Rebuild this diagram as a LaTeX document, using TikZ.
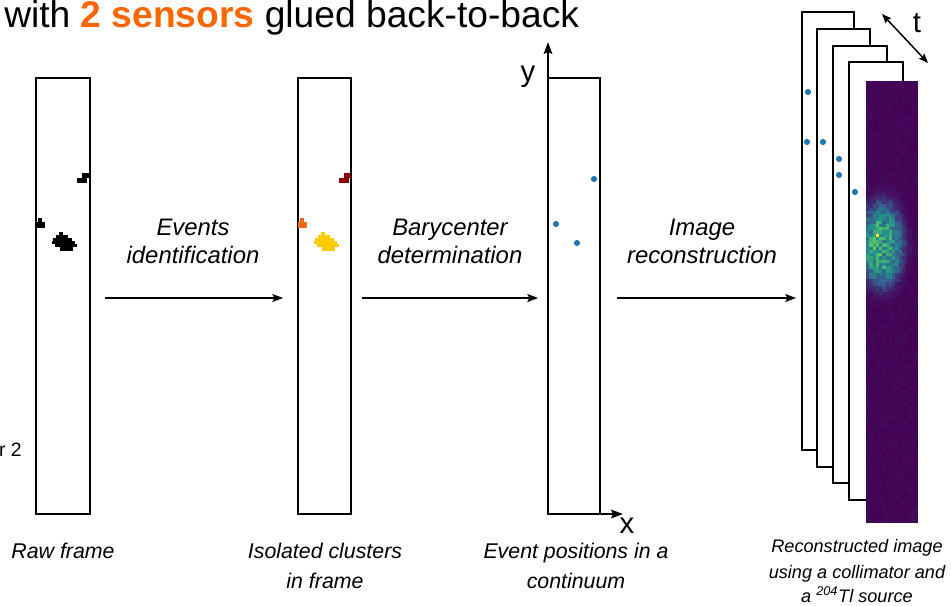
\documentclass[tikz,border=0pt]{standalone}
\usepackage{fontspec}
\setmainfont{Liberation Sans}
\usetikzlibrary{arrows.meta}
\definecolor{orng}{HTML}{FF6600}
\definecolor{dotblue}{HTML}{1F77B4}
\definecolor{clred}{HTML}{8B0000}
\definecolor{clorange}{HTML}{F2661A}
\definecolor{clyellow}{HTML}{FFCC00}
\definecolor{v0}{HTML}{440154}
\definecolor{v1}{HTML}{3B528B}
\definecolor{v2}{HTML}{21918C}
\definecolor{v3}{HTML}{5EC962}
\definecolor{v4}{HTML}{FDE725}
\tikzset{
  detframe/.style={draw=black, line width=0.9pt, fill=white},
  flowarrow/.style={line width=1.1pt, -{Stealth[length=8pt,width=6pt,inset=1.5pt]}},
  axisarrow/.style={line width=1.5pt, -{Stealth[length=9pt,width=6.5pt,inset=1.5pt]}},
  steplabel/.style={font=\fontsize{17.9}{21}\selectfont\itshape, anchor=base},
  botlabel/.style={font=\fontsize{16}{19}\selectfont\itshape, anchor=base},
  smalllabel/.style={font=\fontsize{13.6}{16}\selectfont\itshape, anchor=base},
  axislabel/.style={font=\fontsize{22}{26}\selectfont, anchor=base},
  evdot/.style={fill=dotblue}
}
\newcommand\drawclusters[3]{%
  \fill[#1] (82,173) rectangle (89,178);
  \fill[#1] (77,178) rectangle (87,183);
  \fill[#2] (38,218) rectangle (42,222);
  \fill[#2] (36,222) rectangle (45,228);
  \fill[#3] (59,232) rectangle (63,235);
  \fill[#3] (56,235) rectangle (68,238);
  \fill[#3] (53,238) rectangle (72,241);
  \fill[#3] (52,241) rectangle (75,244);
  \fill[#3] (55,244) rectangle (77,247);
  \fill[#3] (60,247) rectangle (73,251);
}
\begin{document}
\begin{tikzpicture}[x=0.75pt,y=-0.75pt]
\useasboundingbox (0,0) rectangle (951,606);

% title
\node[anchor=base west, inner sep=0] (title) at (4,28)
  {\fontsize{27.9}{33}\selectfont with \textbf{\color{orng}2 sensors} glued back-to-back};
\node[anchor=base east, inner sep=0, font=\fontsize{14.5}{17}\selectfont] (sens) at (22,456) {r 2};

% raw frame
\draw[detframe] (36,78) rectangle (90,514);
\drawclusters{black}{black}{black}

% clusters frame
\draw[detframe] (298,78) rectangle (351,514);
\begin{scope}[shift={(262,0)}]
\drawclusters{clred}{clorange}{clyellow}
\end{scope}

% event frame with axes
\draw[detframe] (548,78) rectangle (600,514);
\fill[evdot] (594,179) circle[radius=2.3pt];
\fill[evdot] (556,224) circle[radius=2.3pt];
\fill[evdot] (577,243) circle[radius=2.3pt];
\coordinate (orig) at (548,514);
\coordinate (ytip) at (548,42);
\coordinate (xtip) at (623,514);
\draw[axisarrow] (orig) -- (ytip);
\draw[axisarrow] (orig) -- (xtip);
\node[axislabel] (ylab) at (528,82) {y};
\node[axislabel] (xlab) at (627,533) {x};

% stacked frames
\draw[detframe] (802,12) rectangle (854,450);
\fill[evdot] (808,92) circle[radius=2.3pt];
\fill[evdot] (807,142) circle[radius=2.3pt];
\draw[detframe] (817,29) rectangle (870,467);
\fill[evdot] (823,142) circle[radius=2.3pt];
\draw[detframe] (833,46) rectangle (887,483);
\fill[evdot] (839,159) circle[radius=2.3pt];
\fill[evdot] (839,175) circle[radius=2.3pt];
\draw[detframe] (849,62) rectangle (903,500);
\fill[evdot] (855,192) circle[radius=2.3pt];

% heatmap
\fill[v0] (866,81) rectangle (918,523);
\pgfmathsetseed{11}
\foreach \j in {0,...,135}{
  \foreach \i in {0,...,15}{
    \pgfmathsetmacro\dd{min(((\i-4.5)^2)/44+((\j-50)^2)/170, 3)}
    \pgfmathsetmacro\ee{min(((\i-1.5)^2)/8+((\j-50)^2)/70, 9)}
    \pgfmathsetmacro\hv{min(0.6*exp(-\dd*\dd)*(0.55+0.6*rnd)+0.2*exp(-\ee)*rnd+0.03*rnd, 0.8)}
    \pgfmathtruncatemacro\seg{min(floor(\hv*4),3)}
    \pgfmathsetmacro\pf{(\hv*4-\seg)*100}
    \ifcase\seg \colorlet{cc}{v1!\pf!v0}\or\colorlet{cc}{v2!\pf!v1}\or\colorlet{cc}{v3!\pf!v2}\or\colorlet{cc}{v4!\pf!v3}\fi
    \fill[cc] (866+\i*3.25, 81+\j*3.25) rectangle ++(3.3,3.3);
  }
}
\fill[v4] (875.75,233.75) rectangle ++(3.25,3.25);

% t arrow
\coordinate (t1) at (882,14);
\coordinate (t2) at (928,63);
\draw[line width=1.1pt, {Stealth[length=7pt,width=5.5pt,inset=1pt]}-{Stealth[length=7pt,width=5.5pt,inset=1pt]}] (t1) -- (t2);
\node[axislabel] (tlab) at (917,33) {t};

% flow arrows
\coordinate (a1s) at (105,298); \coordinate (a1e) at (283,298);
\coordinate (a2s) at (362,298); \coordinate (a2e) at (538,298);
\coordinate (a3s) at (617,298); \coordinate (a3e) at (796,298);
\draw[flowarrow] (a1s) -- (a1e);
\draw[flowarrow] (a2s) -- (a2e);
\draw[flowarrow] (a3s) -- (a3e);

% step labels
\node[steplabel] (s1a) at (193,236) {Events};
\node[steplabel] (s1b) at (193,264) {identification};
\node[steplabel] (s2a) at (450,236) {Barycenter};
\node[steplabel] (s2b) at (450,264) {determination};
\node[steplabel] (s3a) at (702,236) {Image};
\node[steplabel] (s3b) at (702,264) {reconstruction};

% bottom labels
\node[botlabel] (b1) at (63,558) {Raw frame};
\node[botlabel] (b2a) at (325,558) {Isolated clusters};
\node[botlabel] (b2b) at (325,588) {in frame};
\node[botlabel] (b3a) at (576,558) {Event positions in a};
\node[botlabel] (b3b) at (576,588) {continuum};
\node[smalllabel] (b4a) at (857,552) {Reconstructed image};
\node[smalllabel] (b4b) at (857,578) {using a collimator and};
\node[smalllabel] (b4c) at (857,602) {a \textsuperscript{204}Tl source};
\end{tikzpicture}
\end{document}
